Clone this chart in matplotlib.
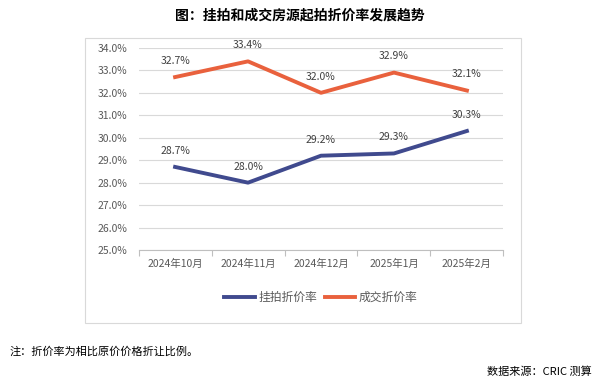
import numpy as np
import matplotlib.pyplot as plt
from matplotlib.patches import Rectangle
from matplotlib.ticker import FuncFormatter

plt.rcParams['font.family'] = ['Noto Sans CJK SC', 'DejaVu Sans']

# 数据
months = ['2024年10月', '2024年11月', '2024年12月', '2025年1月', '2025年2月']
listing_rate = [28.7, 28.0, 29.2, 29.3, 30.3]
deal_rate = [32.7, 33.4, 32.0, 32.9, 32.1]
series_names = ['挂拍折价率', '成交折价率']

blue = '#404A8E'
orange = '#E9613D'
grey_txt = '#595959'

fig = plt.figure(figsize=(6, 3.8), dpi=100)
ax = fig.add_axes([0.231, 0.342, 0.608, 0.532])

x = np.arange(len(months))
ax.plot(x, listing_rate, color=blue, linewidth=2.8, label=series_names[0])
ax.plot(x, deal_rate, color=orange, linewidth=2.8, label=series_names[1])

for xi, v in zip(x, listing_rate):
    ax.annotate(f'{v:.1f}%', (xi, v), textcoords='offset points', xytext=(0, 8),
                ha='center', va='bottom', fontsize=7.5, color='#404040')
for xi, v in zip(x, deal_rate):
    ax.annotate(f'{v:.1f}%', (xi, v), textcoords='offset points', xytext=(0, 8),
                ha='center', va='bottom', fontsize=7.5, color='#404040')

ax.set_ylim(25, 34)
ax.set_yticks(np.arange(25, 34.01, 1))
ax.yaxis.set_major_formatter(FuncFormatter(lambda v, p: f'{v:.1f}%'))
ax.set_xlim(-0.5, len(months) - 0.5)
ax.set_xticks(x)
ax.set_xticklabels(months)
ax.set_xticks(np.arange(-0.5, len(months)), minor=True)
ax.tick_params(axis='x', which='major', length=0, pad=6, labelsize=7.5, labelcolor=grey_txt)
ax.tick_params(axis='x', which='minor', length=4, color='#BFBFBF', width=0.8)
ax.tick_params(axis='y', length=0, labelsize=7.5, labelcolor=grey_txt, pad=8)
ax.grid(axis='y', color='#D9D9D9', linewidth=0.8)
ax.set_axisbelow(True)
for s in ['top', 'right', 'left']:
    ax.spines[s].set_visible(False)
ax.spines['bottom'].set_color('#BFBFBF')
ax.spines['bottom'].set_linewidth(0.8)

ax.legend(loc='upper center', bbox_to_anchor=(0.5, -0.15), ncol=2, frameon=False,
          fontsize=8.5, handlelength=2.6, columnspacing=0.6, handletextpad=0.3,
          labelcolor=grey_txt)

# 外框
fig.add_artist(Rectangle((85 / 600, 1 - 323 / 380), 436 / 600, 285 / 380,
                         transform=fig.transFigure, fill=False,
                         edgecolor='#D9D9D9', linewidth=0.8))

fig.text(0.5, 1 - 15 / 380, '图：挂拍和成交房源起拍折价率发展趋势', ha='center', va='center',
         fontsize=10, fontweight='bold', color='black')
fig.text(10 / 600, 1 - 352 / 380, '注：折价率为相比原价价格折让比例。', ha='left', va='center',
         fontsize=8, color='black')
fig.text(592 / 600, 1 - 372 / 380, '数据来源：CRIC 测算', ha='right', va='center',
         fontsize=8, color='black')

fig.savefig('out.png', dpi=100)
